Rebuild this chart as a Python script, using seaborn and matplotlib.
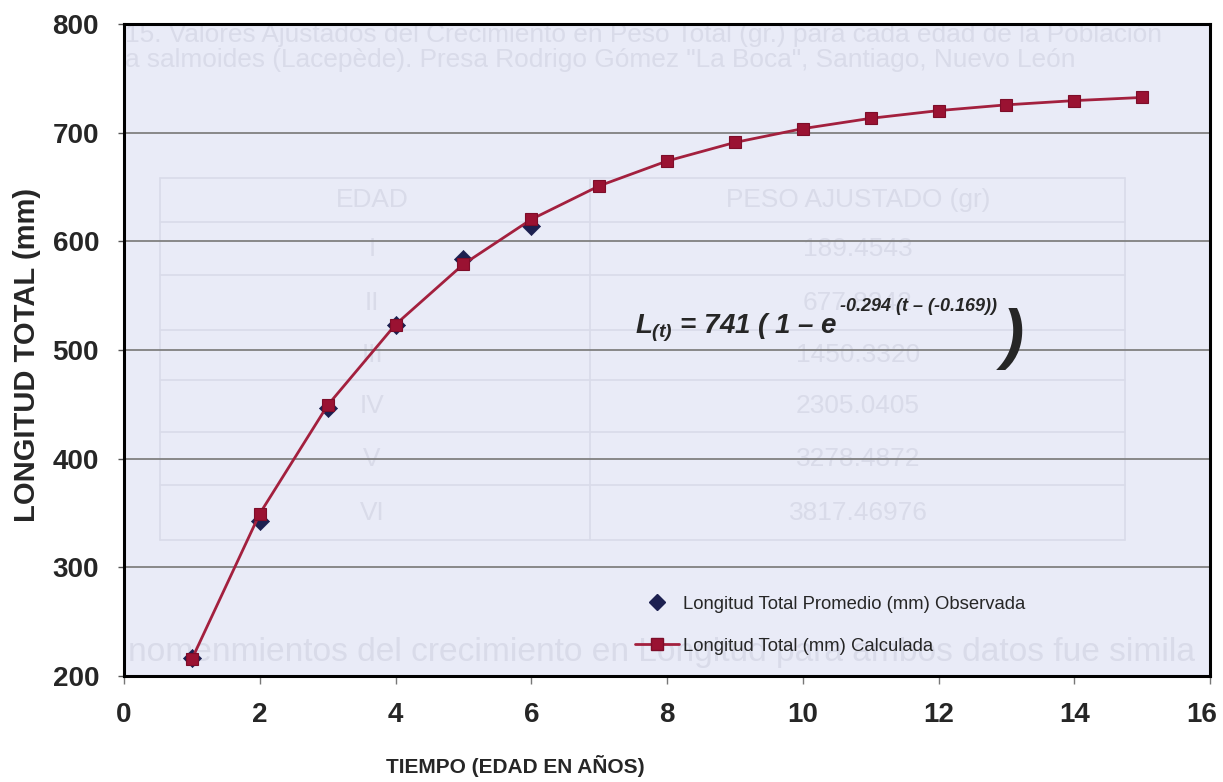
import matplotlib
matplotlib.use("Agg")
import matplotlib.pyplot as plt
import matplotlib.transforms as mtrans
from matplotlib import font_manager as fm
import seaborn as sns
import pandas as pd
from matplotlib.lines import Line2D

# ---- data ----
edad_obs = [1, 2, 3, 4, 5, 6]
long_obs = [217, 343, 447, 523, 584, 614]
edad_calc = [1, 2, 3, 4, 5, 6, 7, 8, 9, 10, 11, 12, 13, 14, 15]
long_calc = [215.5, 349.4, 449.1, 523.4, 578.9, 620.2, 651.0, 673.9,
             691.0, 703.7, 713.2, 720.3, 725.6, 729.5, 732.4]
x_ticks = [0, 2, 4, 6, 8, 10, 12, 14, 16]
y_ticks = [200, 300, 400, 500, 600, 700, 800]
label_obs = "Longitud Total Promedio (mm) Observada"
label_calc = "Longitud Total (mm) Calculada"
x_title = "TIEMPO (EDAD EN AÑOS)"
y_title = "LONGITUD TOTAL (mm)"
eq_main = r"$L_{(t)}$ = 741 ( 1 – e"
eq_exp = "-0.294 (t – (-0.169))"

# faint bleed-through text visible in the scanned background
ghost_title = ["15. Valores Ajustados del Crecimiento en Peso Total (gr.) para cada edad de la Población",
               "a salmoides (Lacepède). Presa Rodrigo Gómez \"La Boca\", Santiago, Nuevo León"]
ghost_edad = ["I", "II", "III", "IV", "V", "VI"]
ghost_peso = ["189.4543", "677.8242", "1450.3320", "2305.0405", "3278.4872", "3817.46976"]
ghost_bottom = "nomenmientos del crecimiento en Longitud para ambos datos fue simila"

sns.set_theme(style="white")
plt.rcParams['font.family'] = ['Liberation Sans', 'DejaVu Sans']
plt.rcParams['mathtext.fontset'] = 'custom'
plt.rcParams['mathtext.rm'] = 'Liberation Sans:bold:italic'
plt.rcParams['mathtext.it'] = 'Liberation Sans:bold:italic'
plt.rcParams['mathtext.bf'] = 'Liberation Sans:bold:italic'

# choose a narrow face if one is installed
_names = {f.name for f in fm.fontManager.ttflist}
if 'Liberation Sans Narrow' in _names:
    NARROW = ['Liberation Sans Narrow']
    NS = 1.0
else:
    NARROW = ['Liberation Sans']
    NS = 0.86

W, H = 1223, 782
fig = plt.figure(figsize=(W / 100, H / 100), dpi=100)
fig.patch.set_facecolor('white')
L, R, T, B = 124, 1210, 24, 676
ax = fig.add_axes([L / W, 1 - B / H, (R - L) / W, (B - T) / H])
ax.set_facecolor('#e9ebf7')

def px(x, y):
    return ((x - L) / (R - L), (B - y) / (B - T))

TA = ax.transAxes

# ---- ghost background ----
gcol = '#d9dbe9'
ax.text(*px(125, 35), ghost_title[0], transform=TA, color=gcol, fontsize=22 * NS,
        family=NARROW, va='center', ha='left', zorder=0, clip_on=True)
ax.text(*px(125, 60), ghost_title[1], transform=TA, color=gcol, fontsize=22 * NS,
        family=NARROW, va='center', ha='left', zorder=0, clip_on=True)
row_y = [178, 222, 275, 330, 380, 432, 485, 540]
for yy in row_y:
    a0, b0 = px(160, yy)
    a1, _ = px(1125, yy)
    ax.plot([a0, a1], [b0, b0], transform=TA, color=gcol, lw=1.2, zorder=0)
for xx in [160, 590, 1125]:
    a0, b0 = px(xx, 178)
    _, b1 = px(xx, 540)
    ax.plot([a0, a0], [b0, b1], transform=TA, color=gcol, lw=1.2, zorder=0)
ax.text(*px(372, 200), "EDAD", transform=TA, color=gcol, fontsize=22 * NS,
        family=NARROW, ha='center', va='center', zorder=0)
ax.text(*px(858, 200), "PESO AJUSTADO (gr)", transform=TA, color=gcol,
        fontsize=22 * NS, family=NARROW, ha='center', va='center', zorder=0)
for i, (e, p) in enumerate(zip(ghost_edad, ghost_peso)):
    yy = (row_y[i + 1] + row_y[i + 2]) / 2
    ax.text(*px(372, yy), e, transform=TA, color=gcol, fontsize=22 * NS,
            family=NARROW, ha='center', va='center', zorder=0)
    ax.text(*px(858, yy), p, transform=TA, color=gcol, fontsize=22 * NS,
            family=NARROW, ha='center', va='center', zorder=0)
ax.text(*px(128, 652), ghost_bottom, transform=TA, color=gcol, fontsize=28 * NS,
        family=NARROW, va='center', ha='left', zorder=0, clip_on=True)

# ---- grid ----
ax.set_xlim(0, 16)
ax.set_ylim(200, 800)
ax.set_xticks(x_ticks)
ax.set_yticks(y_ticks)
ax.yaxis.grid(True, color='#808080', lw=1.3, zorder=1)
ax.xaxis.grid(False)
ax.set_axisbelow(True)

# ---- data ----
df_obs = pd.DataFrame({"edad": edad_obs, "long": long_obs})
df_calc = pd.DataFrame({"edad": edad_calc, "long": long_calc})
sns.scatterplot(data=df_obs, x="edad", y="long", marker='D', s=85,
                color='#1c2050', edgecolor='#1c2050', linewidth=0.5,
                zorder=3, ax=ax, legend=False)
sns.lineplot(data=df_calc, x="edad", y="long", color='#a3203e', lw=2.0,
             marker='s', markersize=8, markerfacecolor='#9a1232',
             markeredgecolor='#7d0d29', markeredgewidth=0.8,
             zorder=4, ax=ax, legend=False)

# ---- axes styling ----
for s in ax.spines.values():
    s.set_color('black')
    s.set_linewidth(2.2)
    s.set_visible(True)
ax.tick_params(axis='y', which='major', direction='out', length=4, width=1,
               color='#555555', pad=14, left=True, labelsize=20)
ax.tick_params(axis='x', which='major', direction='out', length=6, width=1,
               color='#777777', pad=13, bottom=True, labelsize=20)
for lab in ax.get_yticklabels():
    lab.set_fontweight('bold')
for lab in ax.get_xticklabels():
    lab.set_fontweight('bold')
last = ax.get_xticklabels()[-1]
last.set_transform(last.get_transform() +
                   mtrans.ScaledTranslation(-0.08, 0, fig.dpi_scale_trans))

ax.set_xlabel(x_title, fontsize=17.5 * NS, fontweight='bold', family=NARROW)
ax.xaxis.set_label_coords((515 - L) / (R - L), -(755 - B) / (B - T))
ax.set_ylabel(y_title, fontsize=21, fontweight='bold')
ax.yaxis.set_label_coords(-(124 - 27) / (R - L), (B - 355) / (B - T))
ax.yaxis.label.set_va('center')

# ---- equation ----
ax.text(*px(635, 333), eq_main, transform=TA, fontsize=20, fontweight='bold',
        style='italic', ha='left', va='baseline', zorder=5)
ax.text(*px(840, 311), eq_exp, transform=TA, fontsize=13, fontweight='bold',
        style='italic', ha='left', va='baseline', zorder=5)
ax.text(*px(1002, 356), ")", transform=TA, fontsize=48, fontweight='bold',
        style='italic', family=NARROW, ha='left', va='baseline', zorder=5)

# ---- legend ----
h_obs = Line2D([], [], ls='none', marker='D', markersize=8,
               color='#1c2050', markeredgecolor='#1c2050')
h_calc = Line2D([], [], color='#a3203e', lw=2.0, marker='s', markersize=8,
                markerfacecolor='#9a1232', markeredgecolor='#7d0d29')
leg = ax.legend([h_obs, h_calc], [label_obs, label_calc],
                loc='upper left', bbox_to_anchor=px(618, 579),
                bbox_transform=TA,
                frameon=False, handlelength=2.4, handletextpad=0.2,
                labelspacing=1.35,
                prop={'family': NARROW, 'size': 15.5 * NS})

fig.savefig("out.png", dpi=100)
